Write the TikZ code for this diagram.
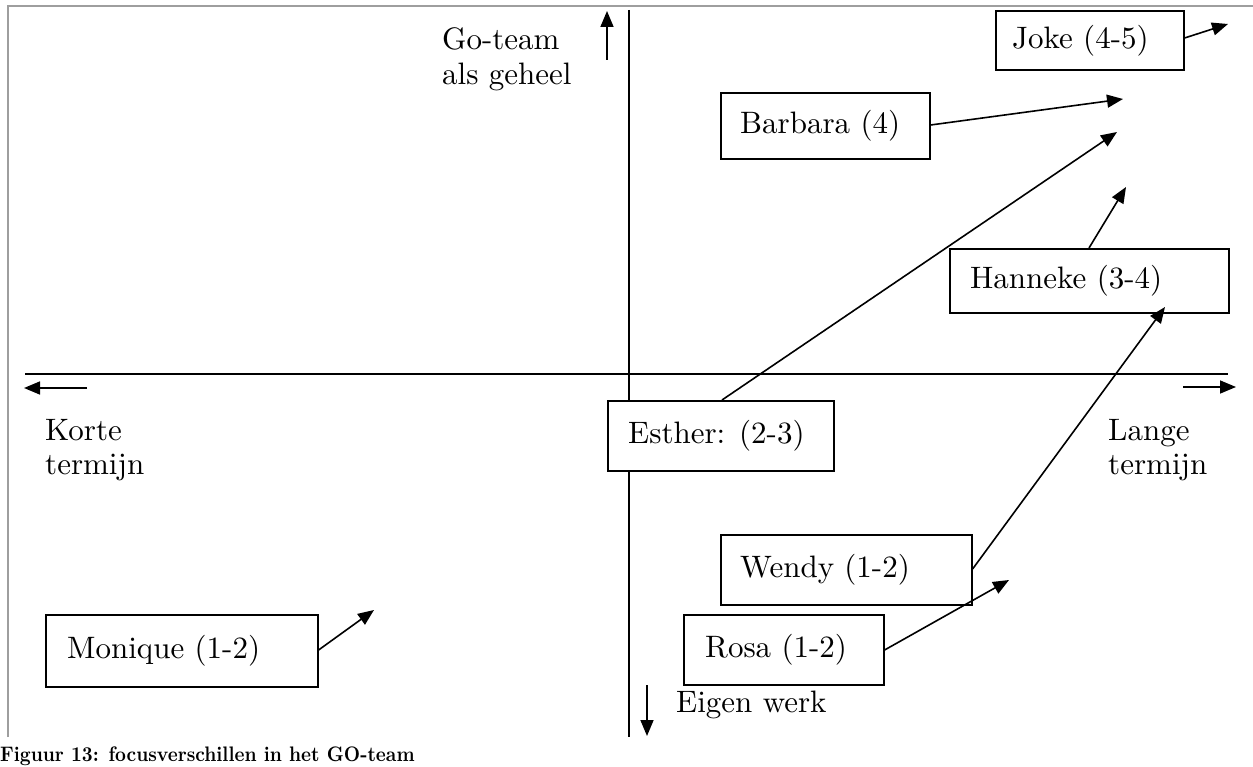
\documentclass[tikz,border=0pt]{standalone}
\usepackage{fontspec}
\setmainfont{lmroman10-regular.otf}[BoldFont=lmroman10-bold.otf]
\newfontfamily\capfont[FakeStretch=0.9]{lmroman10-bold.otf}
\usetikzlibrary{arrows.meta}
\begin{document}
\begin{tikzpicture}[x=1pt,y=-1pt,
  txt/.style={font=\fontsize{31}{35}\selectfont, inner sep=0pt},
  box/.style={draw, fill=white, line width=1.6pt, inner sep=0pt, anchor=north west},
  axis/.style={line width=1.6pt},
  arr/.style={line width=1.6pt, -{Triangle[length=16pt,width=13pt]}},
  frame/.style={line width=2.5pt, draw=black!38}
]
\useasboundingbox (0,0) rectangle (1253,767);
% frame
\draw[frame] (8,737) -- (8,6) -- (1253,6);
% axes
\coordinate (vt) at (629,10);
\coordinate (vb) at (629,737);
\coordinate (hl) at (25,374);
\coordinate (hr) at (1228,374);
\draw[axis] (vt) -- (vb);
\draw[axis] (hl) -- (hr);
% direction arrows
\coordinate (upA) at (607,60);  \coordinate (upB) at (607,11);
\coordinate (lfA) at (87,388);  \coordinate (lfB) at (24,388);
\coordinate (rtA) at (1183,387); \coordinate (rtB) at (1236,387);
\coordinate (dnA) at (647,685); \coordinate (dnB) at (647,736);
\draw[arr] (upA) -- (upB);
\draw[arr] (lfA) -- (lfB);
\draw[arr] (rtA) -- (rtB);
\draw[arr] (dnA) -- (dnB);
% axis labels
\node[txt, anchor=base west] (go1) at (442,50) {Go-team};
\node[txt, anchor=base west] (go2) at (442,85) {als geheel};
\node[txt, anchor=base west] (ko1) at (45,440) {Korte};
\node[txt, anchor=base west] (ko2) at (45,474) {termijn};
\node[txt, anchor=base west] (la1) at (1108,440) {Lange};
\node[txt, anchor=base west] (la2) at (1108,474) {termijn};
\node[txt, anchor=base west] (eig) at (676,712) {Eigen werk};
% boxes
\node[box, minimum width=188pt, minimum height=59pt] (joke) at (995,10) {};
\node[box, minimum width=209pt, minimum height=66pt] (barbara) at (720,92) {};
\node[box, minimum width=226pt, minimum height=70pt] (esther) at (607,400) {};
\node[box, minimum width=279pt, minimum height=64pt] (hanneke) at (949,248) {};
\node[box, minimum width=251pt, minimum height=70pt] (wendy) at (720,534) {};
\node[box, minimum width=200pt, minimum height=70pt] (rosa) at (683,614) {};
\node[box, minimum width=272pt, minimum height=72pt] (monique) at (45,614) {};
% box texts
\node[txt, anchor=west] (tjoke) at ([xshift=17pt]joke.west) {Joke (4-5)};
\node[txt, anchor=west] (tbarbara) at ([xshift=20pt]barbara.west) {Barbara (4)};
\node[txt, anchor=west] (testher) at ([xshift=21pt]esther.west) {Esther: (2-3)};
\node[txt, anchor=west] (thanneke) at ([xshift=21pt]hanneke.west) {Hanneke (3-4)};
\node[txt, anchor=west] (twendy) at ([xshift=20pt]wendy.west) {Wendy (1-2)};
\node[txt, anchor=west] (trosa) at ([xshift=22pt]rosa.west) {Rosa (1-2)};
\node[txt, anchor=west] (tmonique) at ([xshift=22pt]monique.west) {Monique (1-2)};
% arrow tips
\coordinate (tJoke) at (1228,24);
\coordinate (tBarbara) at (1123,99);
\coordinate (tEsther) at (1117,132);
\coordinate (tHanneke) at (1126,187);
\coordinate (tWendy) at (1165,307);
\coordinate (tRosa) at (1009,580);
\coordinate (tMonique) at (374,610);
\draw[arr] (joke.east |- 0,38) -- (tJoke);
\draw[arr] (barbara.east |- 0,125) -- (tBarbara);
\draw[arr] (esther.north -| 722,0) -- (tEsther);
\draw[arr] (hanneke.north -| 1089,0) -- (tHanneke);
\draw[arr] (wendy.east |- 0,569) -- (tWendy);
\draw[arr] (rosa.east |- 0,650) -- (tRosa);
\draw[arr] (monique.east |- 0,650) -- (tMonique);
% caption
\node[inner sep=0pt, anchor=base west, font=\capfont\fontsize{21}{24}\selectfont] (cap) at (0,761) {Figuur 13: focusverschillen in het GO-team};
\end{tikzpicture}
\end{document}
